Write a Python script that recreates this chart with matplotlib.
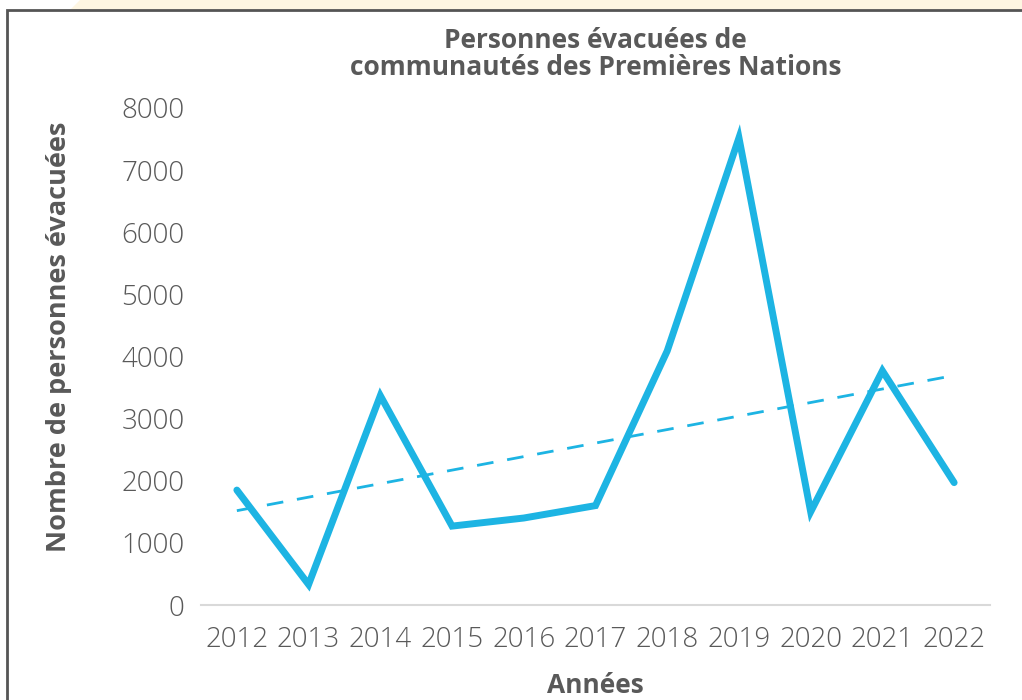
import numpy as np
import matplotlib.pyplot as plt
from matplotlib.patches import Rectangle, Polygon

# data
years = [2012, 2013, 2014, 2015, 2016, 2017, 2018, 2019, 2020, 2021, 2022]
evacuees = [1850, 330, 3370, 1270, 1400, 1600, 4090, 7520, 1500, 3770, 1970]
y_ticks = [0, 1000, 2000, 3000, 4000, 5000, 6000, 7000, 8000]

line_color = '#1DB4E3'
text_color = '#595959'

plt.rcParams['font.family'] = ['Open Sans', 'DejaVu Sans']

fig = plt.figure(figsize=(10.22, 7), dpi=100)
fig.patch.set_facecolor('white')

# pale band and frame around the chart
fig.patches.append(Polygon([[70/1022, 1 - 10/700], [80/1022, 1.0], [1.0, 1.0], [1.0, 1 - 10/700]],
                           closed=True, transform=fig.transFigure,
                           facecolor='#FEF6E2', edgecolor='none', zorder=0))
fig.patches.append(Rectangle((7/1022, -0.05), 1.1, 1 - 10/700 + 0.05,
                             transform=fig.transFigure, facecolor='none',
                             edgecolor='#555555', linewidth=2, zorder=1))

ax = fig.add_axes([201/1022, 1 - 605/700, 789/1022, 497/700])
ax.plot(years, evacuees, color=line_color, linewidth=5, solid_joinstyle='miter',
        solid_capstyle='round', zorder=3)

# linear trend line
coef = np.polyfit(years, evacuees, 1)
trend = np.polyval(coef, years)
ax.plot(years, trend, color=line_color, linewidth=2, linestyle=(0, (6, 5)), zorder=2)

ax.set_xlim(2011.5, 2022.5)
ax.set_ylim(0, 8000)
ax.set_xticks(years)
ax.set_xticklabels([str(y) for y in years])
ax.set_yticks(y_ticks)

for s in ['top', 'right', 'left']:
    ax.spines[s].set_visible(False)
ax.spines['bottom'].set_color('#D9D9D9')
ax.spines['bottom'].set_linewidth(1.5)
ax.tick_params(length=0, labelsize=20, labelcolor=text_color, pad=12)
ax.tick_params(axis='x', pad=15)
for lab in ax.get_xticklabels() + ax.get_yticklabels():
    lab.set_fontweight('light')

ax.set_title('Personnes évacuées de\ncommunautés des Premières Nations',
             fontsize=19, fontweight='bold', color=text_color, pad=24, linespacing=1.0)
ax.set_ylabel('Nombre de personnes évacuées', fontsize=19.5, fontweight='bold',
              color=text_color)
ax.yaxis.set_label_coords(-0.163, 0.54)
ax.set_xlabel('Années', fontsize=19, fontweight='bold', color=text_color, labelpad=13)

fig.savefig('out.png', dpi=100)
